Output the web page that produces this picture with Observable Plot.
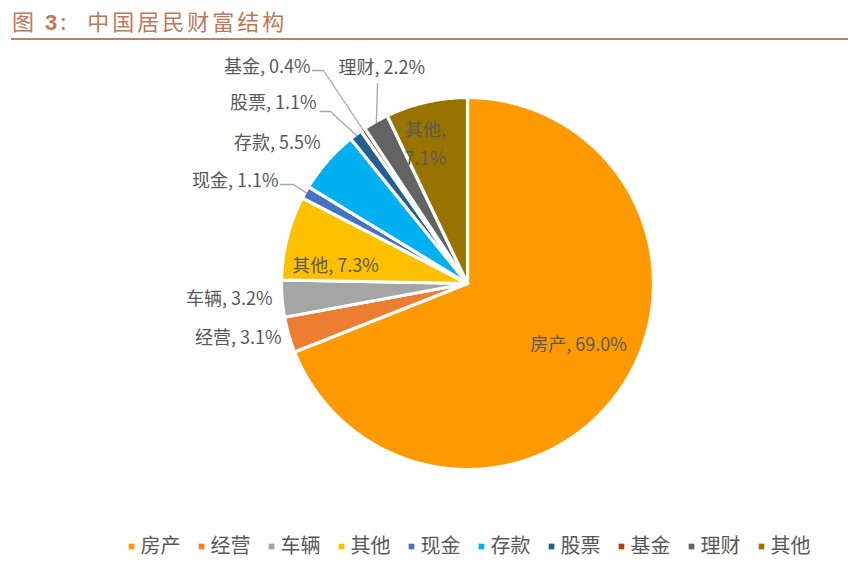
<!DOCTYPE html>
<html>
<head>
<meta charset="utf-8">
<script src="https://cdn.jsdelivr.net/npm/d3@7"></script>
<script src="https://cdn.jsdelivr.net/npm/@observablehq/plot@0.6"></script>
<style>
  html, body { margin: 0; padding: 0; background: #fff; }
  #wrap { position: relative; width: 859px; height: 566px; overflow: hidden; font-family: "Noto Sans CJK SC", "Noto Sans", sans-serif; }
  #chart { position: absolute; left: 0; top: 0; }
  #title { position: absolute; left: 12px; top: 4px; font-size: 22px; color: #C0775C; letter-spacing: 3px; white-space: nowrap; font-weight: 400; }
  #title b { font-family: "Liberation Sans", Arial, sans-serif; font-weight: bold; }
  #title span { display: inline-block; width: 18px; }
  #rule { position: absolute; left: 11px; top: 38px; width: 837px; height: 2px; background: #C97C62; }
</style>
</head>
<body>
<div id="wrap">
  <div id="chart"></div>
  <div id="title">图 <b>3</b>:<span></span>中国居民财富结构</div>
  <div id="rule"></div>
</div>
<script>
// ---- data ----
const categories = ["房产", "经营", "车辆", "其他", "现金", "存款", "股票", "基金", "理财", "其他"];
const shares = [69.0, 3.1, 3.2, 7.3, 1.1, 5.5, 1.1, 0.4, 2.2, 7.1];
const colors = ["#FF9900", "#ED7D31", "#A5A5A5", "#FFC000", "#4472C4", "#00B0F0", "#255E91", "#9E480E", "#636363", "#997300"];

// ---- layout (pixels relative to pie centre) ----
const W = 859, H = 566, CX = 467, CY = 283, R = 186;
// label placement: [dx, dy, anchor]
const labelPos = [
  [111, 58, "middle"],
  [-186, 55, "end"],
  [-195, 16, "end"],
  [-132, -21, "middle"],
  [-189, -102, "end"],
  [-147, -140, "end"],
  [-151, -180, "end"],
  [-157, -216, "end"],
  [-129, -215, "start"],
  [-42, -142, "middle"]
];
// leader lines: label-side points, slice-edge point is computed
const leaders = {
  4: [[-187, -99], [-174, -99]],
  6: [[-147, -172], [-137, -172]],
  7: [[-155, -213], [-144, -213]],
  8: [[-90, -200]]
};

const ids = categories.map((c, i) => i + ":" + c);
const arcs = d3.pie().sort(null).value(d => d)(shares);

// slice polygons
const slicePts = [];
arcs.forEach((a, i) => {
  slicePts.push({id: ids[i], x: 0, y: 0});
  const n = Math.max(2, Math.ceil((a.endAngle - a.startAngle) / (Math.PI / 360)));
  for (let k = 0; k <= n; k++) {
    const t = a.startAngle + (a.endAngle - a.startAngle) * k / n;
    slicePts.push({id: ids[i], x: R * Math.sin(t), y: -R * Math.cos(t)});
  }
  slicePts.push({id: ids[i], x: 0, y: 0});
});

// labels
const labels = arcs.map((a, i) => ({
  text: i === 9 ? `${categories[i]},\n${shares[i].toFixed(1)}%` : `${categories[i]}, ${shares[i].toFixed(1)}%`,
  x: labelPos[i][0], y: labelPos[i][1], anchor: labelPos[i][2]
}));

// leader lines
const leaderPts = [];
Object.entries(leaders).forEach(([k, pts]) => {
  const a = arcs[+k];
  const m = (a.startAngle + a.endAngle) / 2;
  pts.forEach(p => leaderPts.push({g: k, x: p[0], y: p[1]}));
  leaderPts.push({g: k, x: (R - 1) * Math.sin(m), y: -(R - 1) * Math.cos(m)});
});

// legend
const legend = categories.map((c, i) => ({id: ids[i], label: c, x: -336 + 70 * i, y: 263}));

const chart = Plot.plot({
  width: W, height: H,
  marginTop: 0, marginRight: 0, marginBottom: 0, marginLeft: 0,
  x: {domain: [-CX, W - CX], range: [0, W], axis: null},
  y: {domain: [-CY, H - CY], range: [0, H], axis: null},
  color: {type: "ordinal", domain: ids, range: colors},
  style: {fontFamily: "'Noto Sans CJK SC', 'Noto Sans', sans-serif", background: "transparent"},
  marks: [
    Plot.line(slicePts, {x: "x", y: "y", z: "id", fill: "id", stroke: "#fff", strokeWidth: 3.2, strokeLinejoin: "miter", curve: "linear"}),
    Plot.line(leaderPts, {x: "x", y: "y", z: "g", stroke: "#A6A6A6", strokeWidth: 1.3}),
    Plot.text(labels.filter(d => d.anchor === "middle"), {x: "x", y: "y", text: "text", textAnchor: "middle", fontSize: 18, fill: "#595959", lineHeight: 1.6}),
    Plot.text(labels.filter(d => d.anchor === "end"), {x: "x", y: "y", text: "text", textAnchor: "end", fontSize: 18, fill: "#595959"}),
    Plot.text(labels.filter(d => d.anchor === "start"), {x: "x", y: "y", text: "text", textAnchor: "start", fontSize: 18, fill: "#595959"}),
    Plot.dot(legend, {x: "x", y: "y", symbol: "square", r: 3.2, fill: "id", stroke: null}),
    Plot.text(legend, {x: d => d.x + 9, y: "y", text: "label", textAnchor: "start", fontSize: 20, fill: "#595959"})
  ]
});
document.getElementById("chart").appendChild(chart);
</script>
</body>
</html>
